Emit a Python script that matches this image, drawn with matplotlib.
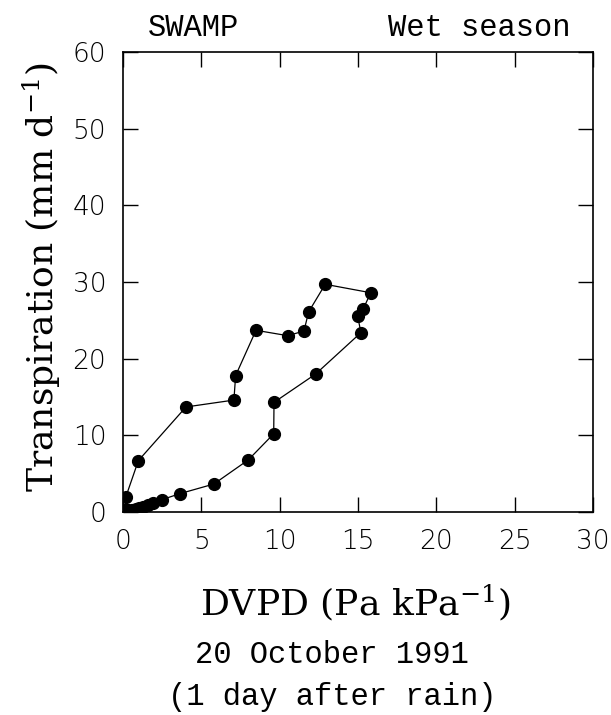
import matplotlib
matplotlib.use('Agg')
import matplotlib.pyplot as plt

# DVPD (Pa kPa-1) and transpiration (mm d-1), in the order the loop is drawn
dvpd = [0.15, 0.2, 0.35, 0.55, 0.8, 1.05, 1.3, 1.6, 1.9, 2.47, 3.64, 5.8, 8.0,
        9.62, 9.64, 12.3, 15.19, 14.98, 15.34, 15.81, 12.91, 11.85, 11.55,
        10.51, 8.49, 7.19, 7.08, 4.02, 0.98, 0.17, 0.15]
transp = [0.3, 0.15, 0.2, 0.25, 0.35, 0.5, 0.7, 0.9, 1.15, 1.6, 2.4, 3.65, 6.8,
          10.2, 14.3, 18.0, 23.4, 25.5, 26.5, 28.6, 29.7, 26.1, 23.6,
          23.0, 23.7, 17.8, 14.6, 13.7, 6.7, 1.9, 0.3]

xticks = [0, 5, 10, 15, 20, 25, 30]
yticks = [0, 10, 20, 30, 40, 50, 60]

plt.rcParams['mathtext.fontset'] = 'dejavuserif'

fig = plt.figure(figsize=(6.11, 7.15), dpi=100)
ax = fig.add_axes([0.2013, 0.2839, 0.7692, 0.6434])

ax.plot(dvpd, transp, color='black', linewidth=0.9, marker='o',
        markersize=8.5, markerfacecolor='black', markeredgecolor='black')

ax.set_xlim(0, 30)
ax.set_ylim(0, 60)
ax.set_xticks(xticks)
ax.set_yticks(yticks)
ax.tick_params(direction='in', length=11, width=1, top=True, right=True,
               labelsize=19, pad=12)
for lab in ax.get_xticklabels() + ax.get_yticklabels():
    lab.set_family('DejaVu Sans')
    lab.set_fontweight('light')
for s in ax.spines.values():
    s.set_linewidth(1.2)

mono = 'Liberation Mono'
fig.text(193 / 611, 1 - 28 / 715, 'SWAMP', family=mono, fontsize=22,
         ha='center', va='center')
fig.text(479 / 611, 1 - 28 / 715, 'Wet season', family=mono, fontsize=22,
         ha='center', va='center')

fig.text(42 / 611, 1 - 277 / 715, 'Transpiration (mm d$^{-1}$)',
         family='DejaVu Serif', fontsize=26, rotation=90,
         ha='center', va='center')
fig.text(355 / 611, 1 - 603 / 715, 'DVPD (Pa kPa$^{-1}$)',
         family='DejaVu Serif', fontsize=26, ha='center', va='center')
fig.text(332 / 611, 1 - 655 / 715, '20 October 1991', family=mono,
         fontsize=22, ha='center', va='center')
fig.text(332 / 611, 1 - 697 / 715, '(1 day after rain)', family=mono,
         fontsize=22, ha='center', va='center')

plt.savefig('out.png', dpi=100)
